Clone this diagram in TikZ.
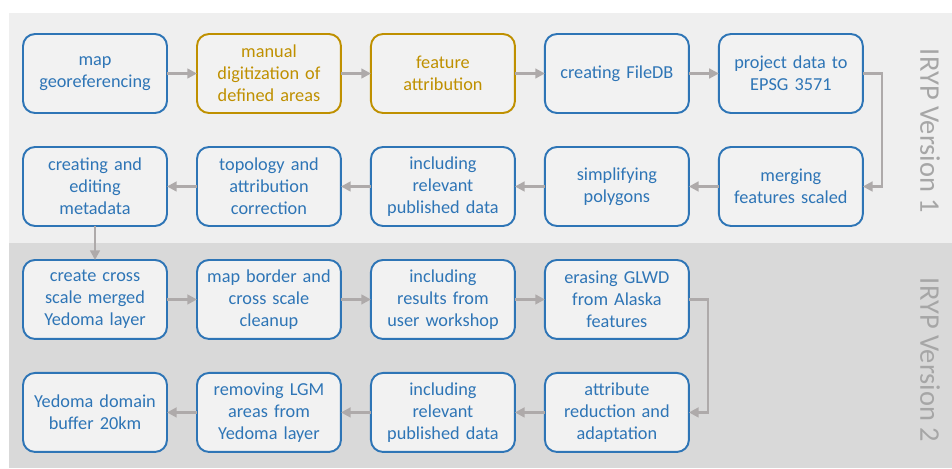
\documentclass[tikz,border=0pt]{standalone}
\usepackage{fontspec}
\setmainfont{Carlito}
\usetikzlibrary{positioning}
\usetikzlibrary{arrows.meta}

\definecolor{stepblue}{HTML}{2E75B6}
\definecolor{stepgold}{HTML}{BF9000}
\definecolor{bandone}{HTML}{EFEFEF}
\definecolor{bandtwo}{HTML}{D9D9D9}
\definecolor{boxfill}{HTML}{F2F2F2}
\definecolor{flowgray}{HTML}{AEAAAA}
\definecolor{labelgray}{HTML}{A6A6A6}

\begin{document}
\begin{tikzpicture}[x=0.02cm,y=-0.02cm,
	node distance=0.68cm and 0.6cm,
	stepbox/.style={draw=stepblue,text=stepblue,fill=boxfill,line width=1.1pt,rounded corners=0.24cm,
		minimum width=2.88cm,minimum height=1.58cm,text width=2.8cm,align=center,inner sep=0pt,outer sep=0pt,
		font=\fontsize{10.4pt}{12.4pt}\selectfont},
	manualbox/.style={stepbox,draw=stepgold,text=stepgold},
	flow/.style={draw=flowgray,line width=1.4pt,-{Triangle[length=5.5pt,width=5.5pt]}},
	bandlabel/.style={rotate=-90,text=labelgray,font=\fontsize{16.2pt}{19pt}\selectfont}
	]
	\useasboundingbox (0,0) rectangle (952,468);
	\fill[bandone] (9,13) rectangle (952,243);
	\fill[bandtwo] (9,243) rectangle (952,468);
	\node[bandlabel] (vone) at (930,131) {IRYP Version 1};
	\node[bandlabel] (vtwo) at (930,360) {IRYP Version 2};

	% version 1
	\node[stepbox] (a1) at (95,73.5) {map\\georeferencing};
	\node[manualbox,right=of a1] (a2) {manual\\digitization of\\defined areas};
	\node[manualbox,right=of a2] (a3) {feature\\attribution};
	\node[stepbox,right=of a3] (a4) {creating FileDB};
	\node[stepbox,right=of a4] (a5) {project data to\\EPSG 3571};
	\node[stepbox,below=of a5] (b5) {merging\\features scaled};
	\node[stepbox,left=of b5] (b4) {simplifying\\polygons};
	\node[stepbox,left=of b4] (b3) {including\\relevant\\published data};
	\node[stepbox,left=of b3] (b2) {topology and\\attribution\\correction};
	\node[stepbox,left=of b2] (b1) {creating and\\editing\\metadata};

	% version 2
	\node[stepbox,below=of b1] (c1) {create cross\\scale merged\\Yedoma layer};
	\node[stepbox,right=of c1] (c2) {map border and\\cross scale\\cleanup};
	\node[stepbox,right=of c2] (c3) {including\\results from\\user workshop};
	\node[stepbox,right=of c3] (c4) {erasing GLWD\\from Alaska\\features};
	\node[stepbox,below=of c4] (d4) {attribute\\reduction and\\adaptation};
	\node[stepbox,left=of d4] (d3) {including\\relevant\\published data};
	\node[stepbox,left=of d3] (d2) {removing LGM\\areas from\\Yedoma layer};
	\node[stepbox,left=of d2] (d1) {Yedoma domain\\buffer 20km};

	\draw[flow] (a1) -- (a2);
	\draw[flow] (a2) -- (a3);
	\draw[flow] (a3) -- (a4);
	\draw[flow] (a4) -- (a5);
	\draw[flow] (a5.east) -- ++(19,0) |- (b5.east);
	\draw[flow] (b5) -- (b4);
	\draw[flow] (b4) -- (b3);
	\draw[flow] (b3) -- (b2);
	\draw[flow] (b2) -- (b1);
	\draw[flow] (b1) -- (c1);
	\draw[flow] (c1) -- (c2);
	\draw[flow] (c2) -- (c3);
	\draw[flow] (c3) -- (c4);
	\draw[flow] (c4.east) -- ++(19,0) |- (d4.east);
	\draw[flow] (d4) -- (d3);
	\draw[flow] (d3) -- (d2);
	\draw[flow] (d2) -- (d1);
\end{tikzpicture}
\end{document}
